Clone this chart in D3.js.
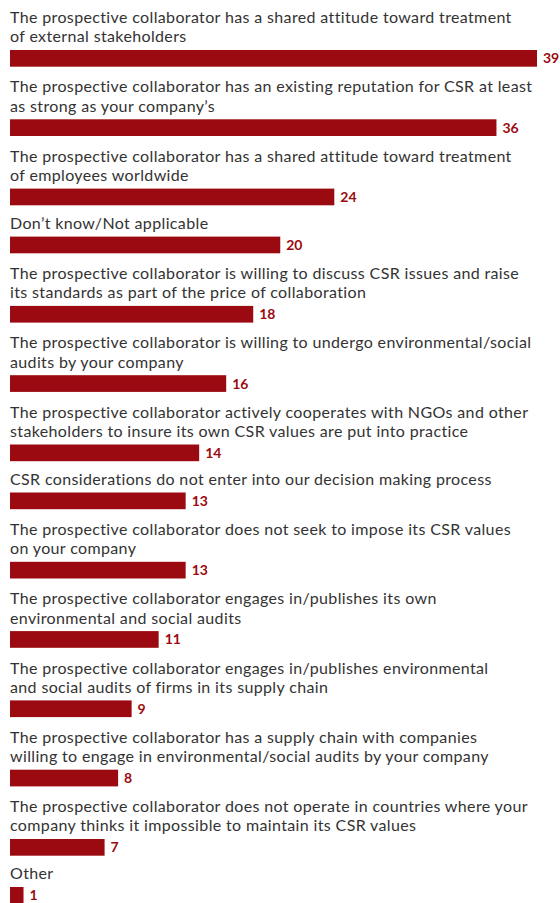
<!DOCTYPE html>
<html>
<head>
<meta charset="utf-8">
<script src="https://cdn.jsdelivr.net/npm/d3@7"></script>
<style>
  html, body { margin: 0; padding: 0; background: #ffffff; }
  svg { display: block; }
  .label { font-family: Lato, "Open Sans", sans-serif; font-size: 16px; letter-spacing: 0.36px; fill: #333333; }
  .value { font-family: Lato, "Open Sans", sans-serif; font-size: 14px; font-weight: 700; fill: #9b0a10; }
</style>
</head>
<body>
<svg id="chart" width="560" height="903"></svg>
<script>
// Survey answers, each split into the lines it is printed on
const categories = [
  ["The prospective collaborator has a shared attitude toward treatment", "of external stakeholders"],
  ["The prospective collaborator has an existing reputation for CSR at least", "as strong as your company\u2019s"],
  ["The prospective collaborator has a shared attitude toward treatment", "of employees worldwide"],
  ["Don\u2019t know/Not applicable"],
  ["The prospective collaborator is willing to discuss CSR issues and raise", "its standards as part of the price of collaboration"],
  ["The prospective collaborator is willing to undergo environmental/social", "audits by your company"],
  ["The prospective collaborator actively cooperates with NGOs and other", "stakeholders to insure its own CSR values are put into practice"],
  ["CSR considerations do not enter into our decision making process"],
  ["The prospective collaborator does not seek to impose its CSR values", "on your company"],
  ["The prospective collaborator engages in/publishes its own", "environmental and social audits"],
  ["The prospective collaborator engages in/publishes environmental", "and social audits of firms in its supply chain"],
  ["The prospective collaborator has a supply chain with companies", "willing to engage in environmental/social audits by your company"],
  ["The prospective collaborator does not operate in countries where your", "company thinks it impossible to maintain its CSR values"],
  ["Other"]
];

// Share of respondents (%)
const values = [39, 36, 24, 20, 18, 16, 14, 13, 13, 11, 9, 8, 7, 1];

const svg = d3.select("#chart");

const left = 10;
const barH = 16.7;
const lineH = 21.3;     // vertical space consumed per label line
const rowGap = 26.7;    // fixed part of each row (bar plus spacing)
const textLead = 19.3;  // spacing between wrapped label lines
const barOffset = 7.4;

const x = d3.scaleLinear().domain([0, 39]).range([left, 537]);

// running vertical position of each row
const rows = [];
let acc = 0;
categories.forEach((lines, i) => {
  rows.push({ lines, value: values[i], start: acc, n: lines.length });
  acc += lines.length * lineH + rowGap;
});
const y = d3.scaleLinear().domain([0, acc]).range([0, acc]);

const g = svg.selectAll("g.row").data(rows).join("g").attr("class", "row");

g.each(function (d) {
  const row = d3.select(this);
  const barTop = y(d.start + d.n * lineH + barOffset);
  row.append("rect")
    .attr("x", x(0))
    .attr("y", barTop)
    .attr("width", x(d.value) - x(0))
    .attr("height", barH)
    .attr("fill", "#9b0a10");
  d.lines.forEach((t, k) => {
    row.append("text")
      .attr("class", "label")
      .attr("x", left)
      .attr("y", barTop - 7.6 - (d.n - 1 - k) * textLead)
      .text(t);
  });
  row.append("text")
    .attr("class", "value")
    .attr("x", x(d.value) + 6)
    .attr("y", barTop + barH / 2)
    .attr("dy", "0.36em")
    .text(d.value);
});
</script>
</body>
</html>
